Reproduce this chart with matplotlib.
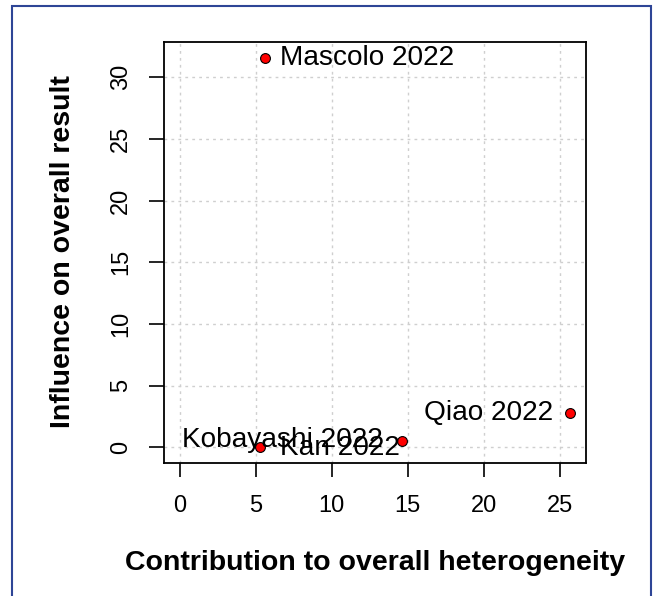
import matplotlib
matplotlib.use("Agg")
import matplotlib.pyplot as plt
from matplotlib.patches import Rectangle

# study labels and Baujat coordinates
studies = ["Mascolo 2022", "Kobayashi 2022", "Kan 2022", "Qiao 2022"]
heterogeneity = [5.6, 5.3, 14.6, 25.7]
influence = [31.6, 0.0, 0.5, 2.8]

# label placement: (dx, dy) in pixels from the point, horizontal alignment
label_offsets = [(15, 0), (123, 7), (-2, -7), (-17, 0)]
label_align = ["left", "right", "right", "right"]

plt.rcParams["font.family"] = ["Liberation Sans", "DejaVu Sans"]

fig = plt.figure(figsize=(6.54, 5.96), dpi=100)
ax = fig.add_axes([164 / 654, 133 / 596, 422 / 654, 421 / 596])

xmax = max(heterogeneity)
ymax = max(influence)
ax.set_xlim(-0.04 * xmax, 1.04 * xmax)
ax.set_ylim(-0.04 * ymax, 1.04 * ymax)

xt = [0, 5, 10, 15, 20, 25]
yt = [0, 5, 10, 15, 20, 25, 30]
ax.set_xticks(xt)
ax.set_yticks(yt)
ax.set_xticklabels([str(v) for v in xt], fontsize=17)
ax.set_yticklabels([str(v) for v in yt], fontsize=17, rotation=90, va="center")
ax.tick_params(axis="x", length=10, width=1.2, pad=13)
ax.tick_params(axis="y", length=11, width=1.2, pad=12)

for v in xt:
    ax.axvline(v, color="#cfcfcf", linestyle=(0, (2, 3)), linewidth=1, zorder=0)
for v in yt:
    ax.axhline(v, color="#cfcfcf", linestyle=(0, (2, 3)), linewidth=1, zorder=0)

for s in ax.spines.values():
    s.set_linewidth(1.3)

ax.scatter(heterogeneity, influence, s=50, c="red", edgecolors="black",
           linewidths=0.8, zorder=3)

for name, x, y, off, ha in zip(studies, heterogeneity, influence,
                               label_offsets, label_align):
    ax.annotate(name, (x, y), xytext=off, textcoords="offset pixels",
                ha=ha, va="center", fontsize=20.2, zorder=4)

fig.text(375 / 654, 1 - 563 / 596, "Contribution to overall heterogeneity",
         ha="center", va="center", fontsize=20.5, fontweight="bold")
fig.text(63 / 654, 1 - 252 / 596, "Influence on overall result",
         ha="center", va="center", fontsize=20.5, fontweight="bold",
         rotation=90)

# outer frame
fig.patches.append(Rectangle((12 / 654, -0.05), 639 / 654, 1 - 6 / 596 + 0.05,
                             transform=fig.transFigure, fill=False,
                             edgecolor="#2e4596", linewidth=1.5))

fig.savefig("out.png", dpi=100)
